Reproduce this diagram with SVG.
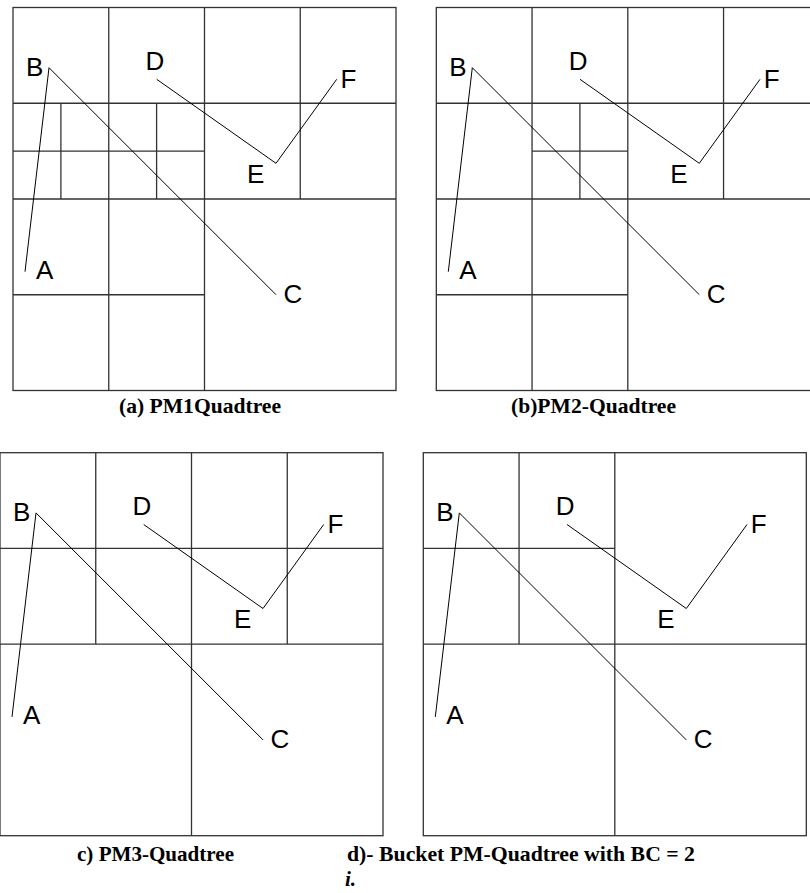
<svg xmlns="http://www.w3.org/2000/svg" width="810" height="893" viewBox="0 0 810 893">
<style>
.grid{fill:none;stroke:#333;stroke-width:1.3}
.seg{fill:none;stroke:#000;stroke-width:1}
.lbl{font-family:"Liberation Sans",Arial,sans-serif;font-size:26px;fill:#000}
.cap{font-family:"Liberation Serif","Times New Roman",serif;font-size:21px;font-weight:bold;fill:#000}
</style>
<rect x="0" y="0" width="810" height="893" fill="#fff"/>

<g id="panel-a" transform="translate(13,7.5)">
  <rect class="grid" x="0" y="0" width="383" height="383"/>
  <path class="grid" d="M0 95.75H383M0 191.5H383M0 287.25H191.5M0 143.6H191.5M95.75 0V383M191.5 0V383M287.25 0V191.5M47.9 95.75V191.5M143.6 95.75V191.5"/>
  <g id="segments-a">
    <polyline class="seg" points="12,264.2 36,60.2 263,287.2"/>
    <polyline class="seg" points="143.7,71.8 263,155.8 323.7,71.8"/>
  </g>
  <text class="lbl" x="13" y="68.5">B</text>
  <text class="lbl" x="132.5" y="62.8">D</text>
  <text class="lbl" x="327.5" y="80.8">F</text>
  <text class="lbl" x="234" y="175.2">E</text>
  <text class="lbl" x="23" y="271.8">A</text>
  <text class="lbl" x="270.5" y="295.2">C</text>
</g>

<g id="panel-b" transform="translate(436.3,7.5)">
  <rect class="grid" x="0" y="0" width="383" height="383"/>
  <path class="grid" d="M0 95.75H383M0 191.5H383M0 287.25H191.5M95.75 143.6H191.5M95.75 0V383M191.5 0V383M287.25 0V191.5M143.6 95.75V191.5"/>
  <g id="segments-b">
    <polyline class="seg" points="12,264.2 36,60.2 263,287.2"/>
    <polyline class="seg" points="143.7,71.8 263,155.8 323.7,71.8"/>
  </g>
  <text class="lbl" x="13" y="68.5">B</text>
  <text class="lbl" x="132.5" y="62.8">D</text>
  <text class="lbl" x="327.5" y="80.8">F</text>
  <text class="lbl" x="234" y="175.2">E</text>
  <text class="lbl" x="23" y="271.8">A</text>
  <text class="lbl" x="270.5" y="295.2">C</text>
</g>

<g id="panel-c" transform="translate(0,452.7)">
  <rect class="grid" x="0" y="0" width="383" height="383"/>
  <path class="grid" d="M0 95.75H383M0 191.5H383M95.75 0V191.5M191.5 0V383M287.25 0V191.5"/>
  <g id="segments-c">
    <polyline class="seg" points="12,264.2 36,60.2 263,287.2"/>
    <polyline class="seg" points="143.7,71.8 263,155.8 323.7,71.8"/>
  </g>
  <text class="lbl" x="13" y="68.5">B</text>
  <text class="lbl" x="132.5" y="62.8">D</text>
  <text class="lbl" x="327.5" y="80.8">F</text>
  <text class="lbl" x="234" y="175.2">E</text>
  <text class="lbl" x="23" y="271.8">A</text>
  <text class="lbl" x="270.5" y="295.2">C</text>
</g>

<g id="panel-d" transform="translate(423.3,452.7)">
  <rect class="grid" x="0" y="0" width="383" height="383"/>
  <path class="grid" d="M0 191.5H383M0 95.75H191.5M191.5 0V383M95.75 0V191.5"/>
  <g id="segments-d">
    <polyline class="seg" points="12,264.2 36,60.2 263,287.2"/>
    <polyline class="seg" points="143.7,71.8 263,155.8 323.7,71.8"/>
  </g>
  <text class="lbl" x="13" y="68.5">B</text>
  <text class="lbl" x="132.5" y="62.8">D</text>
  <text class="lbl" x="327.5" y="80.8">F</text>
  <text class="lbl" x="234" y="175.2">E</text>
  <text class="lbl" x="23" y="271.8">A</text>
  <text class="lbl" x="270.5" y="295.2">C</text>
</g>

<g id="captions">
  <text class="cap" x="119" y="413" textLength="162" lengthAdjust="spacingAndGlyphs">(a) PM1Quadtree</text>
  <text class="cap" x="511" y="413" textLength="165" lengthAdjust="spacingAndGlyphs">(b)PM2-Quadtree</text>
  <text class="cap" x="77" y="861" textLength="157" lengthAdjust="spacingAndGlyphs">c) PM3-Quadtree</text>
  <text class="cap" x="347" y="861" textLength="348" lengthAdjust="spacingAndGlyphs">d)- Bucket PM-Quadtree with BC = 2</text>
  <text class="cap" x="345" y="886" font-style="italic" font-size="24">i.</text>
</g>
</svg>
